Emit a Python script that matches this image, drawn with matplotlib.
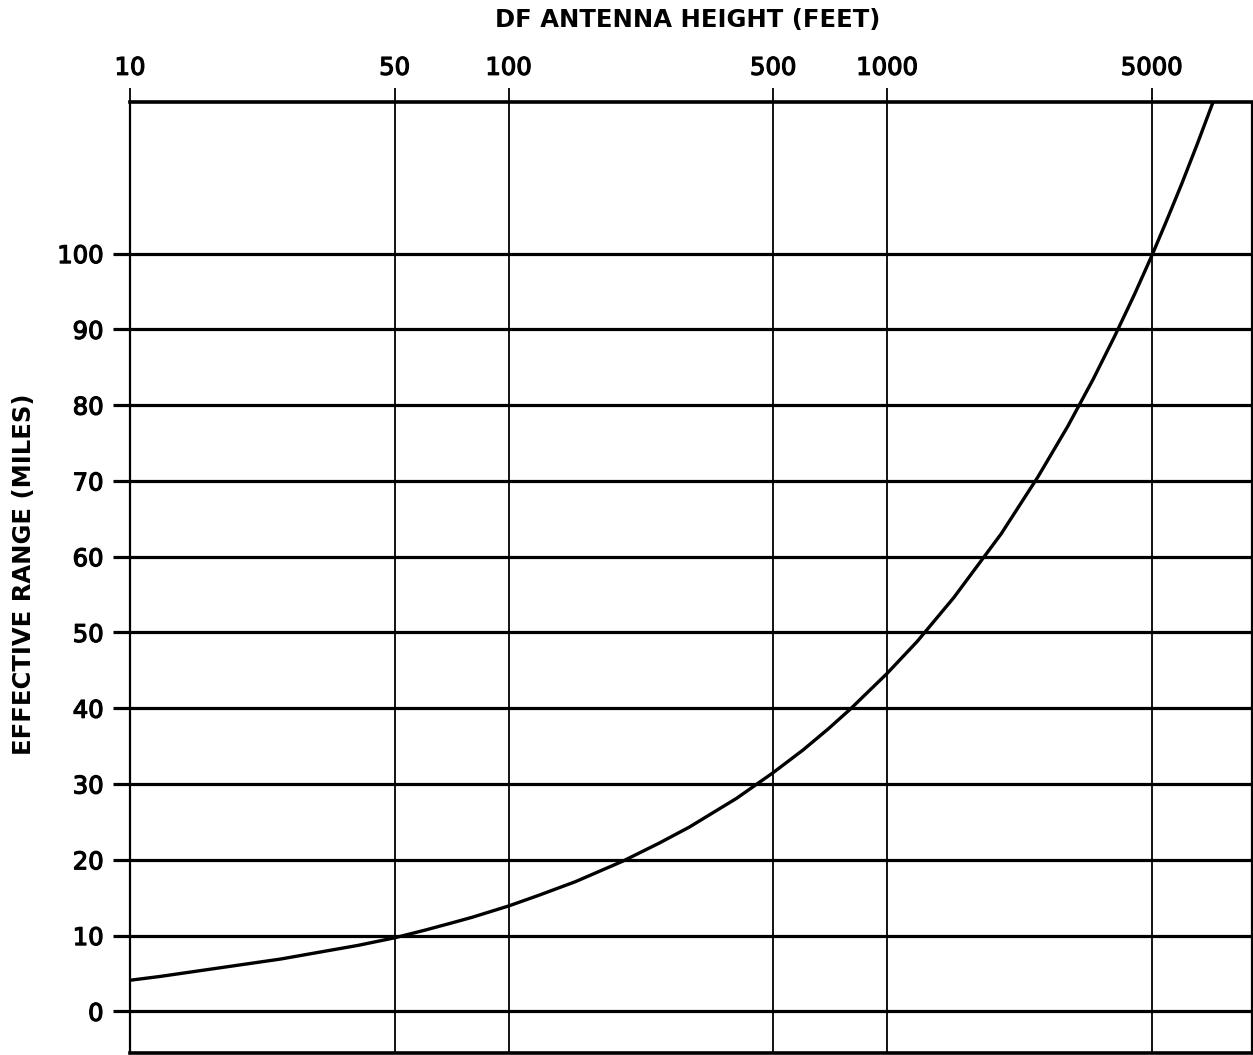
import numpy as np
import matplotlib
matplotlib.use("Agg")
import matplotlib.pyplot as plt
import matplotlib.patheffects as pe

# valores (altura da antena em pés -> alcance em milhas)
altura_pes = [10, 12, 15, 20, 25, 30, 40, 50, 60, 70, 80, 100, 120, 150, 200, 250,
              300, 400, 500, 600, 700, 800, 1000, 1200, 1500, 2000, 2500, 3000,
              3500, 4000, 4500, 5000, 5500, 6000, 6600, 7260]
alcance_milhas = [4.1, 4.6, 5.3, 6.2, 6.9, 7.6, 8.7, 9.7, 10.7, 11.6, 12.4, 13.9,
                  15.3, 17.1, 19.8, 22.2, 24.3, 28.1, 31.5, 34.5, 37.3, 39.9, 44.6,
                  48.8, 54.6, 63.0, 70.5, 77.2, 83.4, 89.2, 94.6, 99.7, 104.6,
                  109.2, 114.5, 120.0]

x_ticks = [10, 50, 100, 500, 1000, 5000]
x_labels = ['10', '50', '100', '500', '1000', '5000']
y_ticks = [0, 10, 20, 30, 40, 50, 60, 70, 80, 90, 100]

W, H = 1253, 1055
fig = plt.figure(figsize=(W / 100, H / 100), dpi=100)
ax = fig.add_axes([130 / W, 2 / H, (1252 - 130) / W, (1053 - 102) / H])

fonte = dict(family='DejaVu Sans', weight='normal', size=17.5)
engrossar = [pe.withStroke(linewidth=0.9, foreground='black')]

ax.set_xscale('log')
ax.set_xlim(10, 9200)
ax.set_ylim(-5.5, 120)

# grade
for y in y_ticks:
    ax.axhline(y, color='black', lw=2.3, zorder=1)
for x in x_ticks[1:]:
    ax.axvline(x, color='black', lw=1.3, zorder=1)

# curva
ax.plot(altura_pes, alcance_milhas, color='black', lw=2.4, zorder=3,
        solid_capstyle='butt')

ax.xaxis.set_ticks_position('top')
ax.set_xticks(x_ticks)
ax.set_xticklabels(x_labels, fontdict=fonte)
ax.xaxis.set_minor_locator(matplotlib.ticker.NullLocator())
ax.tick_params(axis='x', which='major', length=10, width=1.3, pad=6, direction='out')

ax.set_yticks(y_ticks)
ax.set_yticklabels([str(v) for v in y_ticks], fontdict=fonte)
ax.tick_params(axis='y', length=12, width=2.3, pad=7, direction='out')

for lbl in ax.get_xticklabels() + ax.get_yticklabels():
    lbl.set_path_effects(engrossar)

ax.spines['top'].set_linewidth(2.6)
ax.spines['bottom'].set_linewidth(2.6)
ax.spines['left'].set_linewidth(1.6)
ax.spines['right'].set_linewidth(1.6)

fig.text(688 / W, 1 - 20 / H, 'DF ANTENNA HEIGHT (FEET)', ha='center', va='center',
         fontsize=17.5, fontweight='bold', family='DejaVu Sans')
fig.text(24 / W, 1 - 574 / H, 'EFFECTIVE RANGE (MILES)', ha='center', va='center',
         rotation=90, fontsize=17.5, fontweight='bold', family='DejaVu Sans')

fig.savefig('out.png', dpi=100)
